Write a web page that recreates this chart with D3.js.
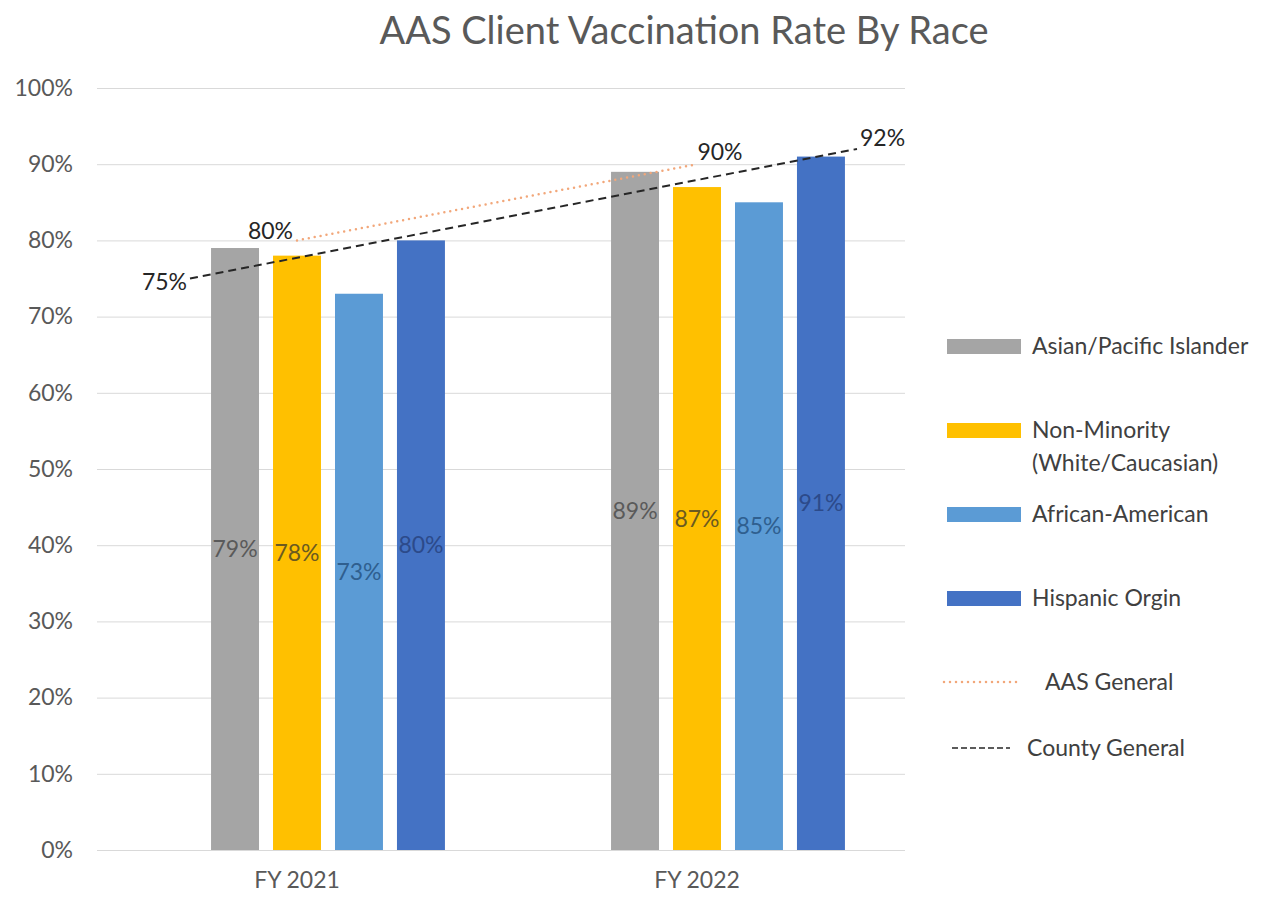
<!DOCTYPE html>
<html>
<head>
<meta charset="utf-8">
<script src="https://cdn.jsdelivr.net/npm/d3@7"></script>
<style>
  body { margin: 0; background: #fff; }
  text { font-family: Lato, "Noto Sans", sans-serif; }
</style>
</head>
<body>
<div id="chart"></div>
<script>
// data
var categories   = ['FY 2021', 'FY 2022'];
var series       = ['Asian/Pacific Islander', 'Non-Minority (White/Caucasian)', 'African-American', 'Hispanic Orgin'];
var asian        = [0.79, 0.89];
var nonMinority  = [0.78, 0.87];
var african      = [0.73, 0.85];
var hispanic     = [0.80, 0.91];
var aasGeneral   = [0.80, 0.90];
var countyGeneral = [0.75, 0.92];
var yTicks       = [0, 0.1, 0.2, 0.3, 0.4, 0.5, 0.6, 0.7, 0.8, 0.9, 1.0];

var barValues    = [asian, nonMinority, african, hispanic];
var barColors    = ['#A5A5A5', '#FFC000', '#5B9BD5', '#4472C4'];
var labelColors  = ['#5a5a5a', '#6b5a20', '#2f5f8f', '#2c4a8a'];

var chart_width  = 1272;
var chart_height = 897;
var plot = { left: 97, right: 897, top: 88, bottom: 850 };
var pct = d3.format('.0%');

var svg = d3.select('#chart')
    .append('svg')
    .attr('width', chart_width)
    .attr('height', chart_height);

// scales
var x0 = d3.scaleBand()
    .domain(categories)
    .range([plot.left, plot.right]);

// first slot is an empty spacer, like in the original cluster
var x1 = d3.scaleBand()
    .domain(['_spacer'].concat(series))
    .range([0, x0.bandwidth()])
    .paddingInner(0.226)
    .paddingOuter(0.84);

var y = d3.scaleLinear()
    .domain([0, 1])
    .range([plot.bottom, plot.top]);

var xCounty = d3.scalePoint()
    .domain(categories)
    .range([190, 857]);

// title
svg.append('text')
    .attr('x', 684)
    .attr('y', 44)
    .attr('text-anchor', 'middle')
    .attr('font-size', 38)
    .attr('fill', '#595959')
    .text('AAS Client Vaccination Rate By Race');

// grid + y axis
var y_axis = d3.axisLeft(y)
    .tickValues(yTicks)
    .tickFormat(pct)
    .tickSize(-(905 - plot.left))
    .tickPadding(24);

svg.append('g')
    .attr('class', 'y-axis')
    .attr('transform', 'translate(' + plot.left + ',0)')
    .call(y_axis)
    .call(function(g) {
        g.select('.domain').remove();
        g.selectAll('line').attr('stroke', '#D9D9D9').attr('stroke-width', 1);
        g.selectAll('text')
            .attr('font-size', 23)
            .attr('fill', '#595959')
            .attr('font-family', 'Lato, "Noto Sans", sans-serif');
    });

// x axis labels
var x_axis = d3.axisBottom(x0).tickSize(0).tickPadding(22);
svg.append('g')
    .attr('class', 'x-axis')
    .attr('transform', 'translate(0,' + plot.bottom + ')')
    .call(x_axis)
    .call(function(g) {
        g.select('.domain').attr('stroke', '#D9D9D9').attr('d', 'M' + plot.left + ',0.5H905');
        g.selectAll('text')
            .attr('font-size', 23)
            .attr('fill', '#595959')
            .attr('font-family', 'Lato, "Noto Sans", sans-serif');
    });

// bars
series.forEach(function(s, si) {
    var g = svg.append('g').attr('class', 'series-' + si);
    g.selectAll('rect')
        .data(barValues[si])
        .enter()
        .append('rect')
        .attr('x', function(d, i) { return x0(categories[i]) + x1(s); })
        .attr('y', function(d) { return y(d); })
        .attr('width', x1.bandwidth())
        .attr('height', function(d) { return y(0) - y(d); })
        .attr('fill', barColors[si]);

    g.selectAll('text')
        .data(barValues[si])
        .enter()
        .append('text')
        .attr('x', function(d, i) { return x0(categories[i]) + x1(s) + x1.bandwidth() / 2; })
        .attr('y', function(d) { return (y(0) + y(d)) / 2; })
        .attr('dy', '0.35em')
        .attr('text-anchor', 'middle')
        .attr('font-size', 23)
        .attr('fill', labelColors[si])
        .text(pct);
});

// AAS General line (dotted)
var aasLine = d3.line()
    .x(function(d, i) { return x0(categories[i]) + x0.bandwidth() / 2; })
    .y(function(d) { return y(d); });

svg.append('path')
    .datum(aasGeneral)
    .attr('d', aasLine)
    .attr('fill', 'none')
    .attr('stroke', '#F2A77A')
    .attr('stroke-width', 2.5)
    .attr('stroke-dasharray', '0,6')
    .attr('stroke-linecap', 'round');

// County General line (dashed)
var countyLine = d3.line()
    .x(function(d, i) { return xCounty(categories[i]); })
    .y(function(d) { return y(d); });

svg.append('path')
    .datum(countyGeneral)
    .attr('d', countyLine)
    .attr('fill', 'none')
    .attr('stroke', '#262626')
    .attr('stroke-width', 2)
    .attr('stroke-dasharray', '8,5');

// line labels
var lineLabels = svg.append('g').attr('font-size', 23).attr('fill', '#262626');
lineLabels.append('text')
    .attr('x', x0(categories[0]) + x0.bandwidth() / 2 - 4)
    .attr('y', y(aasGeneral[0]) - 1)
    .attr('text-anchor', 'end')
    .text(pct(aasGeneral[0]));
lineLabels.append('text')
    .attr('x', x0(categories[1]) + x0.bandwidth() / 2 + 23)
    .attr('y', y(aasGeneral[1]) - 4)
    .attr('text-anchor', 'middle')
    .text(pct(aasGeneral[1]));
lineLabels.append('text')
    .attr('x', xCounty(categories[0]) - 3)
    .attr('y', y(countyGeneral[0]) + 3)
    .attr('dy', '0.35em')
    .attr('text-anchor', 'end')
    .text(pct(countyGeneral[0]));
lineLabels.append('text')
    .attr('x', xCounty(categories[1]) + 3)
    .attr('y', y(countyGeneral[1]) - 11)
    .attr('dy', '0.35em')
    .attr('text-anchor', 'start')
    .text(pct(countyGeneral[1]));

// legend
var legend = svg.append('g').attr('font-size', 23).attr('fill', '#404040');
var legendRows = [346, 430, 514, 598];
series.forEach(function(s, i) {
    legend.append('rect')
        .attr('x', 947)
        .attr('y', legendRows[i] - 7)
        .attr('width', 74)
        .attr('height', 15)
        .attr('fill', barColors[i]);
    var t = legend.append('text')
        .attr('x', 1032)
        .attr('y', legendRows[i])
        .attr('dy', '0.35em');
    if (i === 1) {
        t.text('Non-Minority');
        legend.append('text')
            .attr('x', 1032)
            .attr('y', legendRows[i] + 33)
            .attr('dy', '0.35em')
            .text('(White/Caucasian)');
    } else {
        t.text(s);
    }
});

legend.append('line')
    .attr('x1', 944).attr('x2', 1020)
    .attr('y1', 682).attr('y2', 682)
    .attr('stroke', '#F2A77A')
    .attr('stroke-width', 2.5)
    .attr('stroke-dasharray', '0,6')
    .attr('stroke-linecap', 'round');
legend.append('text')
    .attr('x', 1045).attr('y', 682).attr('dy', '0.35em')
    .text('AAS General');

legend.append('line')
    .attr('x1', 952).attr('x2', 1010)
    .attr('y1', 748).attr('y2', 748)
    .attr('stroke', '#262626')
    .attr('stroke-width', 1.5)
    .attr('stroke-dasharray', '6,3');
legend.append('text')
    .attr('x', 1027).attr('y', 748).attr('dy', '0.35em')
    .text('County General');
</script>
</body>
</html>
